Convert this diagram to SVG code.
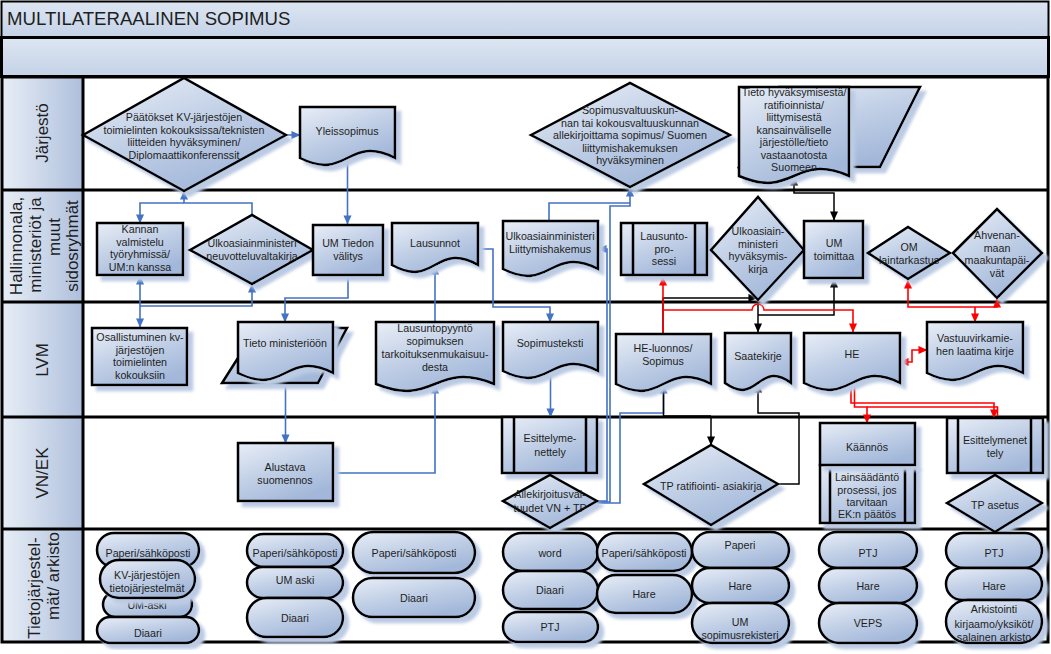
<svg xmlns="http://www.w3.org/2000/svg" width="1051" height="654" viewBox="0 0 1051 654">
<defs>
<linearGradient id="gNode" x1="0" y1="0" x2="0.6" y2="1">
<stop offset="0" stop-color="#e9eef7"/><stop offset="0.5" stop-color="#c3d1e7"/><stop offset="1" stop-color="#a2b7d9"/>
</linearGradient>
<linearGradient id="gHdr" x1="0" y1="0" x2="0" y2="1">
<stop offset="0" stop-color="#dde6f2"/><stop offset="1" stop-color="#c4d2e7"/>
</linearGradient>
<linearGradient id="gLane" x1="0" y1="0" x2="1" y2="0">
<stop offset="0" stop-color="#e8eef6"/><stop offset="1" stop-color="#aebfdc"/>
</linearGradient>
<filter id="sh" x="-15%" y="-15%" width="140%" height="140%">
<feOffset in="SourceAlpha" dx="5" dy="5" result="o"/>
<feGaussianBlur in="o" stdDeviation="1.5" result="b"/>
<feFlood flood-color="#bccbe4"/>
<feComposite in2="b" operator="in" result="s"/>
<feMerge><feMergeNode in="s"/><feMergeNode in="SourceGraphic"/></feMerge>
</filter>
<marker id="ab" viewBox="0 0 10 10" refX="9.5" refY="5" markerWidth="9" markerHeight="9" markerUnits="userSpaceOnUse" orient="auto-start-reverse"><path d="M0,0.5 L10,5 L0,9.5z" fill="#4472c4"/></marker>
<marker id="ak" viewBox="0 0 10 10" refX="9.5" refY="5" markerWidth="9" markerHeight="9" markerUnits="userSpaceOnUse" orient="auto-start-reverse"><path d="M0,0.5 L10,5 L0,9.5z" fill="#000"/></marker>
<marker id="ar" viewBox="0 0 10 10" refX="9.5" refY="5" markerWidth="9" markerHeight="9" markerUnits="userSpaceOnUse" orient="auto-start-reverse"><path d="M0,0.5 L10,5 L0,9.5z" fill="#f00"/></marker>
</defs>
<style>
.n{fill:url(#gNode);stroke:#000;stroke-width:2.5;filter:url(#sh)}
.il{stroke:#000;stroke-width:2.5;fill:none}
.t{font-family:"Liberation Sans",Arial,sans-serif;font-size:10.7px;fill:#1e1e1e;text-anchor:middle}
.lt{font-family:"Liberation Sans",Arial,sans-serif;font-size:17px;fill:#1e1e1e;text-anchor:middle;dominant-baseline:central}
.ln{fill:none;stroke:#000;stroke-width:3}
.cb{fill:none;stroke:#4472c4;stroke-width:1.6}
.ck{fill:none;stroke:#000;stroke-width:1.5}
.cr{fill:none;stroke:#f00;stroke-width:1.6}
</style>

<g id="frame">
<rect x="1.5" y="1.5" width="1047" height="36" fill="url(#gHdr)" stroke="#000" stroke-width="2"/>
<text x="7" y="25" font-family="'Liberation Sans',Arial,sans-serif" font-size="18.6" fill="#1e1e1e">MULTILATERAALINEN SOPIMUS</text>
<rect x="1.5" y="37.5" width="1047" height="39" fill="url(#gHdr)" stroke="#000" stroke-width="3"/>
<rect x="83" y="77" width="965" height="565" fill="#fff"/>
<rect x="2" y="77" width="81" height="565" fill="url(#gLane)"/>
<path class="ln" d="M2,77 H1048 V642 H2 Z M83,77 V642 M2,190 H1048 M2,302 H1048 M2,417 H1048 M2,529 H1048"/>
<text class="lt" transform="rotate(-90 42 133)" x="42" y="133">Järjestö</text>
<text class="lt" transform="rotate(-90 16 246)" x="16" y="246">Hallinnonala,</text>
<text class="lt" transform="rotate(-90 35 245)" x="35" y="245">ministeriöt ja</text>
<text class="lt" transform="rotate(-90 54 237)" x="54" y="237">muut</text>
<text class="lt" transform="rotate(-90 72 246)" x="72" y="246">sidosryhmät</text>
<text class="lt" transform="rotate(-90 42 360)" x="42" y="360">LVM</text>
<text class="lt" transform="rotate(-90 42 473)" x="42" y="473">VN/EK</text>
<text class="lt" transform="rotate(-90 34 588)" x="34" y="588">Tietojärjestel-</text>
<text class="lt" transform="rotate(-90 53 576)" x="53" y="576">mät/ arkisto</text>
</g>

<g id="connectors">
<path class="cb" marker-end="url(#ab)" d="M286,135 H300"/>
<path class="cb" marker-end="url(#ab)" d="M347.5,158 V224"/>
<path class="cb" marker-end="url(#ab)" d="M252,215 V203 H184 V191"/>
<path class="cb" marker-end="url(#ab)" d="M184,203 H140 V223"/>
<path class="cb" marker-start="url(#ab)" marker-end="url(#ab)" d="M140,276 V327"/>
<path class="cb" marker-end="url(#ab)" d="M140,306 H252 V284"/>
<path class="cb" marker-end="url(#ab)" d="M348,275 V298 H285 V322"/>
<path class="cb" marker-end="url(#ab)" d="M285.5,373 V443"/>
<path class="cb" marker-end="url(#ab)" d="M333,473 H435 V385"/>
<path class="cb" marker-end="url(#ab)" d="M435,322 V266"/>
<path class="cb" marker-end="url(#ab)" d="M478,249 H493 V307 H550 V322"/>
<path class="cb" marker-end="url(#ab)" d="M550.5,371 V417"/>
<path class="cb" marker-end="url(#ab)" d="M597,501 H607 V249 H598"/>
<path class="cb" marker-end="url(#ab)" d="M597,502 H610 V206 H630 V188"/>
<path class="cb" d="M549,221 V203 H630"/>
<path class="cb" marker-end="url(#ab)" d="M597,503 H620 V413 H663.5 V385"/>

<path class="ck" marker-start="url(#ak)" marker-end="url(#ak)" d="M794,177 V193 H834 V220"/>
<path class="ck" marker-end="url(#ak)" d="M663,334 V298 H757"/>
<path class="ck" marker-end="url(#ak)" d="M758,300 V332"/>
<path class="ck" marker-end="url(#ak)" d="M758,315 H834 V279"/>
<path class="ck" d="M663.5,385 V416 H711"/>
<path class="ck" marker-end="url(#ak)" d="M711,416 V445"/>
<path class="ck" marker-end="url(#ak)" d="M778,484 H799 V413 H758 V384"/>

<path class="cr" marker-end="url(#ar)" d="M663,334 V277"/>
<path class="cr" marker-end="url(#ar)" d="M663,310 H752 A6,6 0 0 1 764,310 H853 V332"/>
<path class="cr" marker-start="url(#ar)" marker-end="url(#ar)" d="M908,280 V307 H997 V299"/>
<path class="cr" marker-end="url(#ar)" d="M975,307 V322"/>
<path class="cr" marker-start="url(#ar)" marker-end="url(#ar)" d="M900,362 H912 V350 H927"/>
<path class="cr" marker-end="url(#ar)" d="M851,383 V403 H994 V418"/>
<path class="cr" marker-end="url(#ar)" d="M854.5,383 V407 H867 V423"/>
<path class="cr" d="M867,407 H997.5 V416"/>
</g>

<g id="n-paatokset"><path class="n" d="M83,135 L184,78 L286,135 L184,191 Z"/>
<text class="t" x="184" y="121">Päätökset KV-järjestöjen</text><text class="t" x="184" y="133.5">toimielinten kokouksissa/teknisten</text><text class="t" x="184" y="146">liitteiden hyväksyminen/</text><text class="t" x="184" y="158.5">Diplomaattikonferenssit</text></g>

<g id="n-yleissopimus"><path class="n" d="M300,107 H395 V158 C347.5,134 347.5,182 300,158 Z"/>
<text class="t" x="347" y="135">Yleissopimus</text></g>

<g id="n-sopimusvaltuuskunta"><path class="n" d="M531,135 L630,83 L730,135 L630,187 Z"/>
<text class="t" x="630" y="114">Sopimusvaltuuskun-</text><text class="t" x="630" y="126.5">nan tai kokousvaltuuskunnan</text><text class="t" x="630" y="139">allekirjoittama sopimus/ Suomen</text><text class="t" x="630" y="151.5">liittymishakemuksen</text><text class="t" x="630" y="164">hyväksyminen</text></g>

<g id="n-tieto-hyvaksymisesta"><path class="n" d="M779,87 H920 L880,167 H739 Z"/>
<path class="n" d="M739,87 H849 V176 C794,152 794,200 739,176 Z"/>
<text class="t" x="794" y="96">Tieto hyväksymisestä/</text><text class="t" x="794" y="108.5">ratifioinnista/</text><text class="t" x="794" y="121">liittymisestä</text><text class="t" x="794" y="133.5">kansainväliselle</text><text class="t" x="794" y="146">järjestölle/tieto</text><text class="t" x="794" y="158.5">vastaanotosta</text><text class="t" x="794" y="171">Suomeen</text></g>

<g id="n-kannan"><rect class="n" x="97" y="223" width="86" height="52"/>
<text class="t" x="140" y="233">Kannan</text><text class="t" x="140" y="245.5">valmistelu</text><text class="t" x="140" y="258">työryhmissä/</text><text class="t" x="140" y="270.5">UM:n kanssa</text></g>

<g id="n-neuvotteluvaltakirja"><path class="n" d="M190,250 L252,215 L313,250 L252,284 Z"/>
<text class="t" x="252" y="247">Ulkoasiainministeri</text><text class="t" x="252" y="259.5">neuvotteluvaltakirja</text></g>

<g id="n-um-tiedon"><rect class="n" x="313" y="225" width="70" height="50"/>
<text class="t" x="348" y="247">UM Tiedon</text><text class="t" x="348" y="259.5">välitys</text></g>

<g id="n-lausunnot"><path class="n" d="M392,223 H478 V265 C435,241 435,289 392,265 Z"/>
<text class="t" x="435" y="247">Lausunnot</text></g>

<g id="n-liittymishakemus"><path class="n" d="M503,221 H598 V269 C550.5,245 550.5,293 503,269 Z"/>
<text class="t" x="550" y="240">Ulkoasiainministeri</text><text class="t" x="550" y="252.5">Liittymishakemus</text></g>

<g id="n-lausuntoprosessi"><rect class="n" x="621" y="223" width="86" height="52"/>
<path class="il" d="M633,223 V275 M695,223 V275"/>
<text class="t" x="664" y="240">Lausunto-</text><text class="t" x="664" y="252.5">pro-</text><text class="t" x="664" y="265">sessi</text></g>

<g id="n-hyvaksymiskirja"><path class="n" d="M711,250 L758,197 L804,250 L758,300 Z"/>
<text class="t" x="758" y="235">Ulkoasiain-</text><text class="t" x="758" y="247.5">ministeri</text><text class="t" x="758" y="260">hyväksymis-</text><text class="t" x="758" y="272.5">kirja</text></g>

<g id="n-um-toimittaa"><rect class="n" x="804" y="221" width="59" height="57"/>
<text class="t" x="834" y="247">UM</text><text class="t" x="834" y="259.5">toimittaa</text></g>

<g id="n-om"><path class="n" d="M868,253 L908,227 L950,253 L908,279 Z"/>
<text class="t" x="909" y="251">OM</text><text class="t" x="909" y="264">laintarkastus</text></g>

<g id="n-ahvenanmaa"><path class="n" d="M953,253 L997,209 L1042,253 L997,298 Z"/>
<text class="t" x="997" y="239">Ahvenan-</text><text class="t" x="997" y="251.5">maan</text><text class="t" x="997" y="264">maakuntapäi-</text><text class="t" x="997" y="276.5">vät</text></g>

<g id="n-osallistuminen"><rect class="n" x="92" y="328" width="95" height="57"/>
<text class="t" x="140" y="341">Osallistuminen kv-</text><text class="t" x="140" y="353.5">järjestöjen</text><text class="t" x="140" y="366">toimielinten</text><text class="t" x="140" y="378.5">kokouksiin</text></g>

<g id="n-tieto-ministerioon"><path class="n" d="M257,328 H347 L318,383 H222 Z"/>
<path class="n" d="M238,322 H333 V373 C285.5,349 285.5,397 238,373 Z"/>
<text class="t" x="285" y="347">Tieto ministeriöön</text></g>

<g id="n-lausuntopyynto"><path class="n" d="M376,322 H494 V384 C435,360 435,408 376,384 Z"/>
<text class="t" x="435" y="332">Lausuntopyyntö</text><text class="t" x="435" y="345">sopimuksen</text><text class="t" x="435" y="358">tarkoituksenmukaisuu-</text><text class="t" x="435" y="371">desta</text></g>

<g id="n-sopimusteksti"><path class="n" d="M503,322 H598 V371 C550.5,347 550.5,395 503,371 Z"/>
<text class="t" x="550" y="347">Sopimusteksti</text></g>

<g id="n-he-luonnos"><path class="n" d="M616,334 H711 V384 C663.5,360 663.5,408 616,384 Z"/>
<text class="t" x="663" y="352">HE-luonnos/</text><text class="t" x="663" y="365">Sopimus</text></g>

<g id="n-saatekirje"><path class="n" d="M725,333 H791 V383 C758,359 758,407 725,383 Z"/>
<text class="t" x="758" y="360">Saatekirje</text></g>

<g id="n-he"><path class="n" d="M804,333 H900 V383 C852,359 852,407 804,383 Z"/>
<text class="t" x="852" y="358">HE</text></g>

<g id="n-vastuuvirkamies"><path class="n" d="M927,322 H1023 V373 C975,349 975,397 927,373 Z"/>
<text class="t" x="975" y="342">Vastuuvirkamie-</text><text class="t" x="975" y="354.5">hen laatima kirje</text></g>

<g id="n-alustava"><rect class="n" x="238" y="443" width="95" height="58"/>
<text class="t" x="285" y="471">Alustava</text><text class="t" x="285" y="484">suomennos</text></g>

<g id="n-esittelymenettely"><rect class="n" x="502" y="417" width="95" height="56"/>
<path class="il" d="M514,417 V473 M586,417 V473"/>
<text class="t" x="550" y="442">Esittelyme-</text><text class="t" x="550" y="456">nettely</text></g>

<g id="n-allekirjoitus"><path class="n" d="M503,501 L550,475 L597,501 L550,528 Z"/>
<text class="t" x="550" y="498">Allekirjoitusval-</text><text class="t" x="550" y="512">tuudet VN + TP</text></g>

<g id="n-tp-ratifiointi"><path class="n" d="M644,484 L711,445 L778,484 L711,525 Z"/>
<text class="t" x="711" y="490">TP ratifiointi- asiakirja</text></g>

<g id="n-kaannos"><rect class="n" x="820" y="465" width="95" height="58"/>
<path class="il" d="M830,465 V523 M905,465 V523"/>
<rect class="n" x="820" y="423" width="95" height="42"/>
<text class="t" x="867" y="451">Käännös</text>
<text class="t" x="867" y="481">Lainsäädäntö</text><text class="t" x="867" y="493.5">prosessi, jos</text><text class="t" x="867" y="506">tarvitaan</text><text class="t" x="867" y="518">EK:n päätös</text></g>

<g id="n-esittelymenettely2"><rect class="n" x="947" y="418" width="96" height="55"/>
<path class="il" d="M958,418 V473 M1031,418 V473"/>
<text class="t" x="995" y="444">Esittelymenet</text><text class="t" x="995" y="457">tely</text></g>

<g id="n-tp-asetus"><path class="n" d="M947,503 L995,475 L1042,503 L995,532 Z"/>
<text class="t" x="995" y="509">TP asetus</text></g>

<g id="n-tj-1">
<rect class="n" x="97" y="533" width="102" height="34" rx="17"/><text class="t" x="148" y="557">Paperi/sähköposti</text>
<rect class="n" x="103" y="592" width="89" height="25" rx="12.5"/><text class="t" x="147" y="609">UM-aski</text>
<rect class="n" x="100" y="560" width="95" height="38" rx="19"/><text class="t" x="147" y="579">KV-järjestöjen</text><text class="t" x="147" y="592">tietojärjestelmät</text>
<rect class="n" x="97" y="617" width="102" height="26" rx="13"/><text class="t" x="148" y="637">Diaari</text>
</g>
<g id="n-tj-2">
<rect class="n" x="247" y="534" width="96" height="33" rx="16.5"/><text class="t" x="295" y="557">Paperi/sähköposti</text>
<rect class="n" x="247" y="567" width="96" height="31" rx="15.5"/><text class="t" x="295" y="584">UM aski</text>
<rect class="n" x="247" y="598" width="96" height="39" rx="19.5"/><text class="t" x="295" y="622">Diaari</text>
</g>
<g id="n-tj-3">
<rect class="n" x="353" y="532" width="122" height="41" rx="20.5"/><text class="t" x="414" y="557">Paperi/sähköposti</text>
<rect class="n" x="353" y="578" width="122" height="39" rx="19.5"/><text class="t" x="414" y="602">Diaari</text>
</g>
<g id="n-tj-4">
<rect class="n" x="503" y="533" width="95" height="38" rx="19"/><text class="t" x="550" y="557">word</text>
<rect class="n" x="503" y="571" width="95" height="38" rx="19"/><text class="t" x="550" y="594">Diaari</text>
<rect class="n" x="503" y="612" width="95" height="30" rx="15"/><text class="t" x="550" y="631">PTJ</text>
</g>
<g id="n-tj-5">
<rect class="n" x="597" y="533" width="95" height="38" rx="19"/><text class="t" x="644" y="557">Paperi/sähköposti</text>
<rect class="n" x="597" y="575" width="95" height="38" rx="19"/><text class="t" x="644" y="598">Hare</text>
</g>
<g id="n-tj-6">
<rect class="n" x="692" y="532" width="97" height="36" rx="18"/><text class="t" x="740" y="549">Paperi</text>
<rect class="n" x="692" y="568" width="97" height="35" rx="17.5"/><text class="t" x="740" y="590">Hare</text>
<rect class="n" x="692" y="603" width="97" height="40" rx="20"/><text class="t" x="740" y="626">UM</text><text class="t" x="740" y="639">sopimusrekisteri</text>
</g>
<g id="n-tj-7">
<rect class="n" x="819" y="532" width="98" height="36" rx="18"/><text class="t" x="868" y="557">PTJ</text>
<rect class="n" x="819" y="568" width="98" height="35" rx="17.5"/><text class="t" x="868" y="590">Hare</text>
<rect class="n" x="819" y="603" width="98" height="40" rx="20"/><text class="t" x="868" y="627">VEPS</text>
</g>
<g id="n-tj-8">
<rect class="n" x="946" y="533" width="96" height="35" rx="17.5"/><text class="t" x="994" y="557">PTJ</text>
<rect class="n" x="946" y="568" width="96" height="32" rx="16"/><text class="t" x="994" y="590">Hare</text>
<rect class="n" x="946" y="600" width="96" height="43" rx="21.5"/><text class="t" x="994" y="613">Arkistointi</text><text class="t" x="994" y="628">kirjaamo/yksiköt/</text><text class="t" x="994" y="641">salainen arkisto</text>
</g>
</svg>
